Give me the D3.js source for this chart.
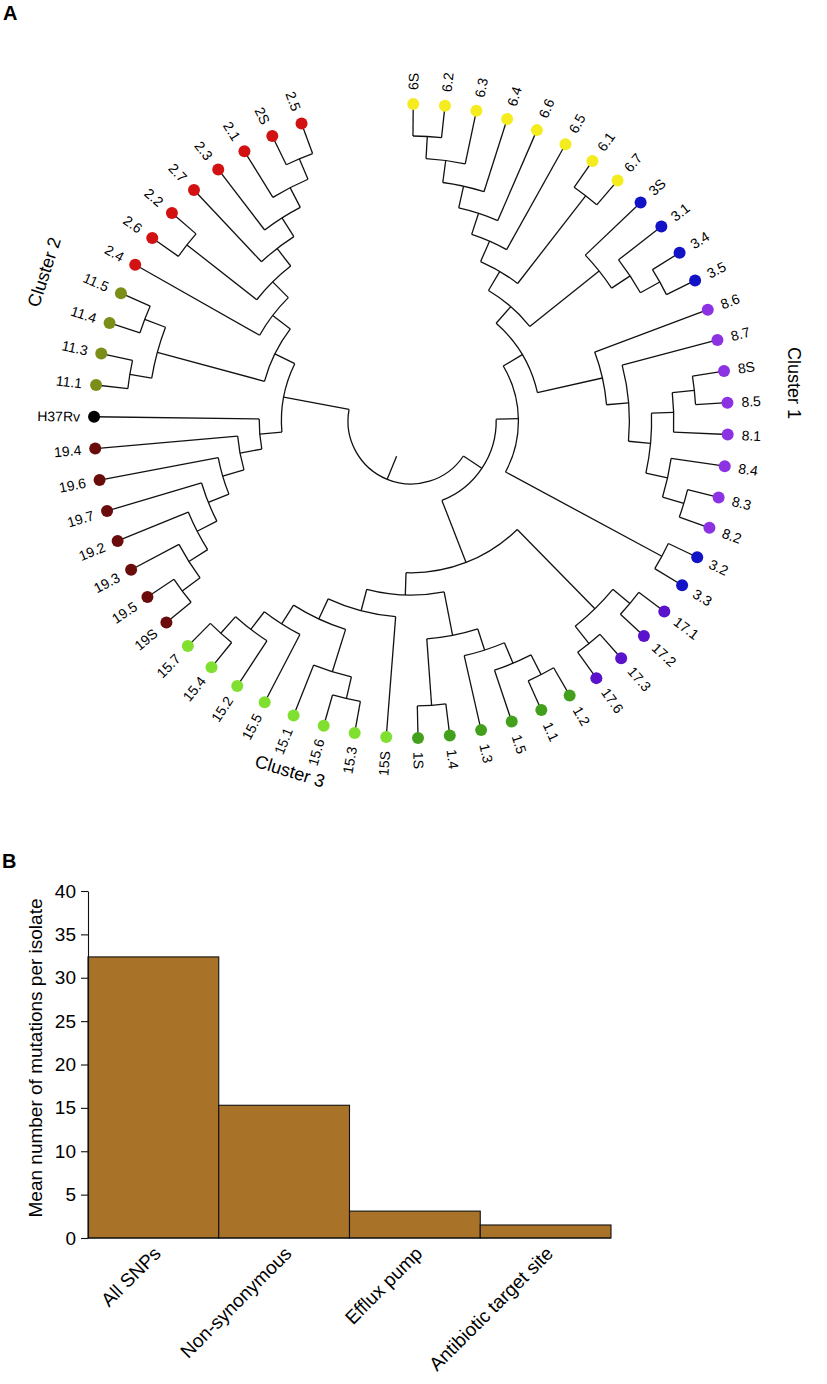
<!DOCTYPE html>
<html><head><meta charset="utf-8">
<script src="https://cdn.jsdelivr.net/npm/d3@7"></script>
<style>
body{margin:0;background:#fff;}
text{font-family:"Liberation Sans",Arial,Helvetica,sans-serif;fill:#000;}
</style>
</head><body>
<svg id="chart" width="827" height="1384"></svg>
<script>
// ---------- DATA ----------
const leafNames = ["6S","6.2","6.3","6.4","6.6","6.5","6.1","6.7","3S","3.1","3.4","3.5",
  "8.6","8.7","8S","8.5","8.1","8.4","8.3","8.2","3.2","3.3","17.1","17.2","17.3","17.6",
  "1.2","1.1","1.5","1.3","1.4","1S","15S","15.3","15.6","15.1","15.5","15.2","15.4","15.7",
  "19S","19.5","19.3","19.2","19.7","19.6","19.4","H37Rv","11.1","11.3","11.4","11.5",
  "2.4","2.6","2.2","2.7","2.3","2.1","2S","2.5"];

const groupColors = {"6":"#f4ec1e","3":"#1212c6","8":"#8c32e2","17":"#5a12cc","1":"#43a01c",
  "15":"#80e030","19":"#6a0c0c","H37Rv":"#000000","11":"#7a8e18","2":"#d21212"};

// internal clades: [id, first child, second child, node level]
const clades = [
  ["root","B","A",0],["B","C","D",1],["C","P","N33",2],["P","n63g","n8",3],
  ["n63g","n6b","n3S",4],["n6b","n65","n67",5],["n65","n66","6.5",6],["n66","n64","6.6",7],
  ["n64","n63","6.4",8],["n63","n62","6.3",9],["n62","6S","6.2",10],["n67","6.1","6.7",10],
  ["n3S","3S","n31",8],["n31","3.1","n35",9],["n35","3.4","3.5",10],
  ["n8","8.6","X8",6],["X8","8.7","Y8",7],["Y8","Y81","Y82",8],["Y81","n8s","8.1",9],
  ["n8s","8S","8.5",10],["Y82","8.4","n82",9],["n82","8.3","8.2",10],["N33","3.2","3.3",10],
  ["D","E","F",4],["E","n171","n173",9],["n171","17.1","17.2",10],["n173","17.3","17.6",10],
  ["F","H1","G15",5],["H1","R1","n1S",7],["R1","R2","1.3",8],["R2","R3","1.5",9],
  ["R3","1.2","1.1",10],["n1S","1.4","1S",10],
  ["G15","15S","G1",6],["G1","n151","G2",7],["n151","n156","15.1",9],["n156","15.3","15.6",10],
  ["G2","15.5","G3",8],["G3","15.2","n154",9],["n154","15.4","15.7",10],
  ["A","Llow","Q",3],["Llow","L19","H37Rv",4],["L19","L19b","19.4",5],["L19b","L19c","19.6",6],
  ["L19c","L19d","19.7",7],["L19d","L19e","19.2",8],["L19e","n19S","19.3",9],["n19S","19S","19.5",10],
  ["Q","n11","n24",4],["n11","n113","n115",9],["n113","11.1","11.3",10],["n115","11.4","11.5",10],
  ["n24","2.4","n2r",5],["n2r","n22","n27",6],["n22","2.6","2.2",10],["n27","2.7","n23",7],
  ["n23","2.3","n21",8],["n21","2.1","n25",9],["n25","2S","2.5",10]
];
const leafLevel = 11.44;
const rootStemLevel = -1.12;

const clusterLabels = ["Cluster 1","Cluster 2","Cluster 3"];

const barCategories = ["All SNPs","Non-synonymous","Efflux pump","Antibiotic target site"];
const barValues = [32.4, 15.3, 3.1, 1.5];
const yTickValues = [0,5,10,15,20,25,30,35,40];
const yAxisTitle = "Mean number of mutations per isolate";

// ---------- TREE ----------
const svg = d3.select("#chart");
const cladeMap = new Map(clades.map(c => [c[0], c]));
function build(id){
  const c = cladeMap.get(id);
  if(!c) return {name:id, level:leafLevel};
  return {name:id, level:c[3], children:[build(c[1]), build(c[2])]};
}
const root = d3.hierarchy(build("root"));
d3.cluster().size([leafNames.length, 1]).separation(() => 1)(root);

const deg = Math.PI/180;
const angle = d3.scaleLinear().domain([0.5, leafNames.length-0.5]).range([0.4*deg, 339.8*deg]);
const radius = d3.scaleLinear().domain([0,10]).range([63,285]);

const groupOf = n => n === "H37Rv" ? "H37Rv" : n.replace(/S$/,"").replace(/\.\d+$/,"");

const tg = svg.append("g").attr("transform","translate(411,421)");
const lineStyle = s => s.attr("fill","none").attr("stroke","#111").attr("stroke-width",1.3);

// arcs of internal nodes
tg.append("g").selectAll("path.arc")
  .data(root.descendants().filter(d => d.children))
  .join("path").attr("class","arc")
  .attr("d", d => {
    const r = radius(d.data.level);
    const a1 = angle(d.children[0].x), a2 = angle(d.children[d.children.length-1].x);
    const p = d3.path();
    const [x1,y1] = d3.pointRadial(a1, r);
    p.moveTo(x1,y1);
    p.arc(0,0,r,a1-Math.PI/2,a2-Math.PI/2,false);
    return p.toString();
  }).call(lineStyle);

// radial links
tg.append("g").selectAll("path.link")
  .data(root.descendants().filter(d => d.parent))
  .join("path").attr("class","link")
  .attr("d", d => {
    const a = angle(d.x);
    const p0 = d3.pointRadial(a, radius(d.parent.data.level));
    const p1 = d3.pointRadial(a, radius(d.data.level));
    return `M${p0[0]},${p0[1]}L${p1[0]},${p1[1]}`;
  }).call(lineStyle);

// root stem
{
  const a = angle(root.x);
  const p0 = d3.pointRadial(a, radius(rootStemLevel));
  const p1 = d3.pointRadial(a, radius(root.data.level));
  tg.append("path").attr("d",`M${p0[0]},${p0[1]}L${p1[0]},${p1[1]}`).call(lineStyle);
}

// leaf dots and labels
const leaves = root.leaves();
tg.append("g").selectAll("circle")
  .data(leaves).join("circle")
  .attr("cx", d => d3.pointRadial(angle(d.x), radius(d.data.level))[0])
  .attr("cy", d => d3.pointRadial(angle(d.x), radius(d.data.level))[1])
  .attr("r", 6)
  .attr("fill", d => groupColors[groupOf(d.data.name)]);

tg.append("g").selectAll("text")
  .data(leaves).join("text")
  .attr("transform", d => {
    const a = angle(d.x)/deg;
    const flip = a > 180;
    return `rotate(${a-90}) translate(${radius(d.data.level)+14},0)` + (flip ? " rotate(180)" : "");
  })
  .attr("text-anchor", d => angle(d.x)/deg > 180 ? "end" : "start")
  .attr("dy","0.36em")
  .attr("font-size", 14)
  .text(d => d.data.name);

// cluster labels
const clusterPos = [[794,383,90],[44,272,-72],[290,771,17]];
svg.append("g").selectAll("text")
  .data(clusterLabels).join("text")
  .attr("transform",(d,i) => `translate(${clusterPos[i][0]},${clusterPos[i][1]}) rotate(${clusterPos[i][2]})`)
  .attr("text-anchor","middle").attr("dy","0.35em")
  .attr("font-size",18).text(d => d);

svg.append("text").attr("x",3).attr("y",20).attr("font-size",20).attr("font-weight","bold").text("A");
svg.append("text").attr("x",2).attr("y",868).attr("font-size",20).attr("font-weight","bold").text("B");

// ---------- BAR CHART ----------
const x = d3.scaleBand().domain(barCategories).range([88,611]).padding(0);
const y = d3.scaleLinear().domain([0,40]).range([1238,891]);

svg.append("g").selectAll("rect")
  .data(barCategories).join("rect")
  .attr("x", d => x(d)).attr("y", (d,i) => y(barValues[i]))
  .attr("width", x.bandwidth()).attr("height", (d,i) => y(0)-y(barValues[i]))
  .attr("fill","#a87228").attr("stroke","#111").attr("stroke-width",1.1);

const yAxis = svg.append("g").attr("transform","translate(88,0)")
  .call(d3.axisLeft(y).tickValues(yTickValues).tickSize(7).tickSizeOuter(0).tickPadding(5));
yAxis.selectAll("text").attr("font-size",19).style("font-family",'"Liberation Sans",Arial,sans-serif');
yAxis.selectAll("line,path").attr("stroke","#111").attr("stroke-width",1.1);

svg.append("line").attr("x1",88).attr("x2",611).attr("y1",1238).attr("y2",1238)
  .attr("stroke","#111").attr("stroke-width",1.1);

svg.append("g").selectAll("text")
  .data(barCategories).join("text")
  .attr("transform", d => `translate(${x(d)+x.bandwidth()/2+4},1250) rotate(-45)`)
  .attr("text-anchor","end").attr("dy","0.35em").attr("font-size",19)
  .text(d => d);

svg.append("text").attr("transform","translate(42,1058) rotate(-90)")
  .attr("text-anchor","middle").attr("font-size",19).text(yAxisTitle);
</script>
</body></html>
